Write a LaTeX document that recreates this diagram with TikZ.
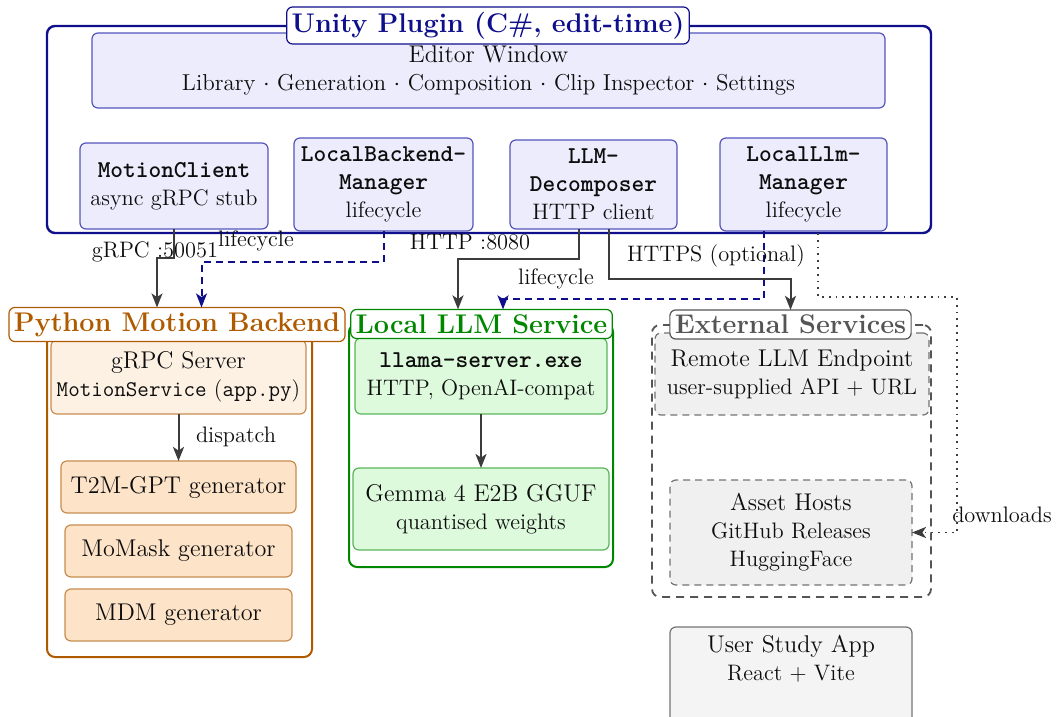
\documentclass[tikz,border=0pt]{standalone}
\usetikzlibrary{arrows.meta,calc}
\definecolor{unavy}{RGB}{15,15,140}
\definecolor{ufill}{RGB}{236,236,252}
\definecolor{uedge}{RGB}{85,85,190}
\definecolor{porange}{RGB}{176,90,0}
\definecolor{pfill1}{RGB}{253,241,228}
\definecolor{pfill2}{RGB}{253,227,200}
\definecolor{pedge}{RGB}{200,140,80}
\definecolor{lgreen}{RGB}{0,135,0}
\definecolor{gfill}{RGB}{221,250,221}
\definecolor{gedge}{RGB}{90,180,90}
\definecolor{egray}{RGB}{85,85,85}
\definecolor{efill}{RGB}{240,240,240}
\definecolor{sfill}{RGB}{244,244,244}
\definecolor{arrgray}{RGB}{60,60,60}
\newcommand\mainf{\fontsize{12.1}{14.5}\selectfont}
\newcommand\subf{\fontsize{11.2}{14}\selectfont}
\newcommand\ttlf{\fontsize{13.5}{15}\selectfont\bfseries}
\newcommand\nmf{\fontsize{12.1}{14.5}\selectfont\ttfamily\bfseries}
\begin{document}
\begin{tikzpicture}[
  x=0.5pt,y=-0.5pt,
  every node/.style={inner sep=0pt,outer sep=0pt,align=center,text=black!95,font=\subf},
  group/.style={rounded corners=4pt,line width=1pt},
  gtitle/.style={draw,fill=white,rounded corners=3pt,line width=0.6pt,inner sep=2.5pt,font=\ttlf},
  ubox/.style={draw=uedge,fill=ufill,rounded corners=3pt,line width=0.6pt},
  pbox/.style={draw=pedge,fill=pfill1,rounded corners=3pt,line width=0.6pt},
  genbox/.style={draw=pedge,fill=pfill2,rounded corners=3pt,line width=0.6pt,font=\mainf},
  gbox/.style={draw=gedge,fill=gfill,rounded corners=3pt,line width=0.6pt},
  ebox/.style={draw=black!55,fill=efill,rounded corners=3pt,line width=0.6pt,dash pattern=on 3.5pt off 2.5pt},
  sbox/.style={draw=black!55,fill=sfill,rounded corners=3pt,line width=0.6pt},
  tip/.style={-{Stealth[length=7pt,width=5.5pt,inset=1.8pt]}},
  arr/.style={draw=arrgray,line width=1pt,tip},
  darr/.style={draw=unavy,line width=1pt,dash pattern=on 3.5pt off 2.5pt,tip},
  dotarr/.style={draw=arrgray,line width=0.9pt,dash pattern=on 0.9pt off 2.5pt,tip},
  lbl/.style={font=\subf}
]
\useasboundingbox (0,0) rectangle (1057,717);

% ---------- Unity plugin ----------
\node[group,draw=unavy,line width=1.2pt,minimum width=442pt,minimum height=103.5pt] (unity) at (489,129.5) {};
\node[ubox,minimum width=396.5pt,minimum height=37.5pt] (editor) at (488.5,70.5)
  {{\mainf Editor Window}\\{\fontsize{11.5}{14}\selectfont Library $\cdot$ Generation $\cdot$ Composition $\cdot$ Clip Inspector $\cdot$ Settings}};
\node[gtitle,draw=unavy,text=unavy] (unitytitle) at (488,25.5) {Unity Plugin (C\#, edit-time)};
\node[ubox,minimum width=94pt,minimum height=43pt] (mclient) at (174,186)
  {{\nmf MotionClient}\\async gRPC stub};
\node[ubox,minimum width=89.5pt,minimum height=46.5pt] (bmgr) at (383.5,184.5)
  {{\nmf LocalBackend-}\\{\nmf Manager}\\lifecycle};
\node[ubox,minimum width=83.5pt,minimum height=44.5pt] (decomp) at (593.5,184.5)
  {{\nmf LLM-}\\{\nmf Decomposer}\\HTTP client};
\node[ubox,minimum width=83.5pt,minimum height=46.5pt] (llmmgr) at (803.5,184.5)
  {{\nmf LocalLlm-}\\{\nmf Manager}\\lifecycle};

% ---------- Python backend ----------
\node[group,draw=porange,minimum width=132.5pt,minimum height=166.5pt] (py) at (179.5,490.5) {};
\node[pbox,minimum width=127.5pt,minimum height=37pt] (grpc) at (178.5,377)
  {{\mainf gRPC Server}\\\texttt{MotionService} (\texttt{app.py})};
\node[gtitle,draw=porange,text=porange] (pytitle) at (177,324.5) {Python Motion Backend};
\node[genbox,minimum width=117.5pt,minimum height=26pt] (t2m) at (178.5,487) {T2M-GPT generator};
\node[genbox,minimum width=113.5pt,minimum height=26pt] (momask) at (178.5,551) {MoMask generator};
\node[genbox,minimum width=113.5pt,minimum height=26pt] (mdm) at (178.5,615) {MDM generator};

% ---------- Local LLM service ----------
\node[group,draw=lgreen,minimum width=132pt,minimum height=121.5pt] (llm) at (481,445.5) {};
\node[gbox,minimum width=126pt,minimum height=38pt] (llama) at (481,376)
  {{\nmf llama-server.exe}\\HTTP, OpenAI-compat};
\node[gtitle,draw=lgreen,text=lgreen] (llmtitle) at (481.5,324) {Local LLM Service};
\node[gbox,minimum width=128pt,minimum height=41pt] (gemma) at (481,509)
  {{\mainf Gemma 4 E2B GGUF}\\quantised weights};

% ---------- External services ----------
\node[group,draw=egray,line width=0.9pt,dash pattern=on 4pt off 3pt,minimum width=139.5pt,minimum height=136pt] (ext) at (791.5,461) {};
\node[ebox,minimum width=137pt,minimum height=41pt] (remote) at (792,374)
  {{\mainf Remote LLM Endpoint}\\user-supplied API + URL};
\node[gtitle,draw=egray,text=egray] (exttitle) at (790.5,324.5) {External Services};
\node[ebox,minimum width=121pt,minimum height=52.5pt] (assets) at (791,532.5)
  {{\mainf Asset Hosts}\\GitHub Releases\\HuggingFace};

% ---------- User study app ----------
\node[sbox,minimum width=121pt,minimum height=59pt] (ustudy) at (791,686) {};
\node[anchor=north] (ustext) at ([yshift=-4pt]ustudy.north) {{\mainf User Study App}\\React + Vite};

% ---------- connectors ----------
\draw[arr] (mclient.south) -- ++(0,29) -| ([xshift=-10pt]pytitle.north);
\draw[darr] (bmgr.south) -- ++(0,31) -| ([xshift=12.25pt]pytitle.north);
\draw[arr] ([xshift=-7.5pt]decomp.south) -- ++(0,30) -| ([xshift=-11.75pt]llmtitle.north);
\draw[darr] ([xshift=-19.75pt]llmmgr.south) -- ++(0,68) -| ([xshift=10.75pt]llmtitle.north);
\draw[arr] ([xshift=7.5pt]decomp.south) -- ++(0,50) -| (exttitle.north);
\draw[dotarr] ([xshift=164.5pt]unity.south) -- ++(0,64) -- ++(139,0) |- (assets.east);
\draw[arr] (grpc.south) -- (t2m.north);
\draw[arr] (llama.south) -- (gemma.north);

\node[lbl] (l1) at (155,252) {gRPC :50051};
\node[lbl] (l2) at (256,241) {lifecycle};
\node[lbl] (l3) at (470,242) {HTTP :8080};
\node[lbl] (l4) at (556,279) {lifecycle};
\node[lbl] (l5) at (716,256) {HTTPS (optional)};
\node[lbl] (l6) at (1002,515) {downloads};
\node[lbl] (l7) at (236,437) {dispatch};
\end{tikzpicture}
\end{document}
